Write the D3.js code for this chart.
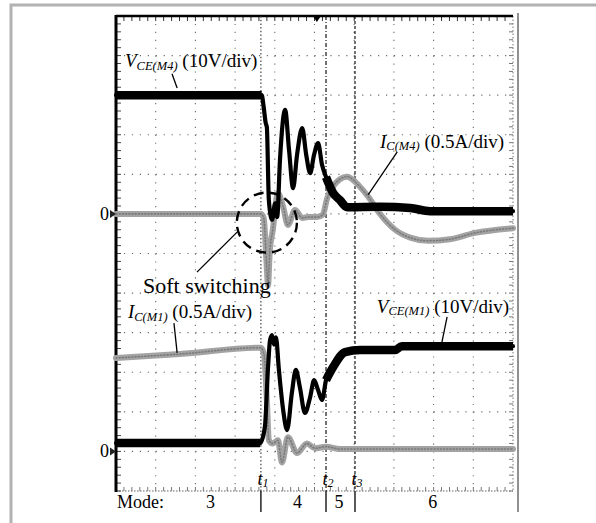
<!DOCTYPE html>
<html><head><meta charset="utf-8">
<script src="https://cdn.jsdelivr.net/npm/d3@7"></script>
<style>html,body{margin:0;padding:0;background:#fff;} svg{display:block;} text{font-family:"Liberation Serif","DejaVu Serif",serif;white-space:pre;}</style>
</head><body><svg id="c" width="596" height="523"></svg>
<script>
// ---------------- DATA (time in div, values in V or A) ----------------
const vceM4Time = [0, 3.67, 3.72, 3.77, 3.80, 3.85, 3.93, 4.01, 4.06, 4.13, 4.26, 4.36, 4.46, 4.56, 4.69, 4.79, 4.89, 4.99, 5.09, 5.19, 5.29, 5.47, 5.64, 5.82, 6.65, 7.41, 7.91, 10];
const vceM4     = [30, 30, 27, 23, 21.9, 3.5, -1.5, 2.7, -0.8, 13.6, 26.3, 16, 6.5, 14.9, 21.7, 15, 10.3, 15, 17.9, 12.4, 9.3, 5.3, 3.5, 1.7, 1.8, 1.5, 0.7, 0.7];

const icM4Time = [0, 3.65, 3.72, 3.79, 3.83, 3.87, 3.95, 4.08, 4.21, 4.33, 4.51, 4.69, 4.84, 5.06, 5.21, 5.31, 5.44, 5.82, 6.15, 6.35, 6.65, 7.03, 7.41, 7.86, 8.41, 9.04, 10];
const icM4     = [0, 0, -0.05, -0.6, -0.9, -0.5, -0.2, 0.26, 0.09, -0.14, 0.05, -0.05, -0.04, -0.04, -0.01, 0.18, 0.33, 0.47, 0.34, 0.22, 0, -0.2, -0.3, -0.34, -0.32, -0.24, -0.18];

const vceM1Time = [0, 3.63, 3.75, 3.83, 3.88, 3.93, 3.98, 4.03, 4.10, 4.21, 4.31, 4.43, 4.53, 4.63, 4.76, 4.89, 4.99, 5.09, 5.19, 5.29, 5.47, 5.77, 6.15, 7.03, 7.20, 10];
const vceM1     = [2.1, 2.1, 6.2, 21.3, 28.1, 29.4, 27.0, 28.8, 21.0, 10.5, 5.4, 14.8, 20.6, 16.3, 9.7, 13.7, 18.0, 15.5, 13.0, 18.0, 21.3, 25.1, 25.6, 25.6, 26.6, 26.6];

const icM1Time = [0, 1.61, 3.65, 3.73, 3.80, 3.85, 3.95, 4.08, 4.18, 4.33, 4.56, 4.81, 5.01, 5.29, 5.64, 10];
const icM1     = [1.18, 1.23, 1.31, 1.22, 0.65, 0.14, 0.10, 0.14, -0.14, 0.18, -0.02, 0.10, 0.04, 0.06, 0.03, 0.03];

const cursorNames = ["1", "2", "3"];
const cursorTimes = [3.65, 5.29, 6.02];
const modeNames = ["3", "4", "5", "6"];
const modeTimes = [2.38, 4.57, 5.62, 7.98];
const triggerTime = 5.06;

// ---------------- SETUP ----------------
const svg = d3.select('#c');
const P = {left:116, top:16, right:513, bottom:491};
const xDiv = d3.scaleLinear([0,10],[P.left,P.right]);
const yDiv = d3.scaleLinear([0,12],[P.bottom,P.top]);
const chan = (zeroDiv, perDiv) => d3.scaleLinear([-zeroDiv*perDiv,(12-zeroDiv)*perDiv],[P.bottom,P.top]);
const yVM4 = chan(7,10), yIM4 = chan(7,0.5), yVM1 = chan(1,10), yIM1 = chan(1,0.5);

// outer frame
svg.append('rect').attr('x',11).attr('y',5).attr('width',700).attr('height',700)
  .attr('fill','none').attr('stroke','#b2b2b2').attr('stroke-width',3);
svg.append('line').attr('x1',518).attr('x2',518).attr('y1',13).attr('y2',512)
  .attr('stroke','#555').attr('stroke-width',1.3);

// grid
const g = svg.append('g');
const minor = (xDiv(1)-xDiv(0))/5, minorY = (yDiv(0)-yDiv(1))/5;
g.selectAll('.vg').data(d3.range(1,10)).join('line')
  .attr('x1',d=>xDiv(d)).attr('x2',d=>xDiv(d)).attr('y1',P.top).attr('y2',P.bottom)
  .attr('stroke','#6a6a6a').attr('stroke-width',1.1).attr('stroke-dasharray',`1.2 ${minorY-1.2}`);
g.selectAll('.hg').data(d3.range(1,12)).join('line')
  .attr('y1',d=>yDiv(d)).attr('y2',d=>yDiv(d)).attr('x1',P.left).attr('x2',P.right)
  .attr('stroke','#6a6a6a').attr('stroke-width',1.1).attr('stroke-dasharray',`1.2 ${minor-1.2}`);
// bottom & right edges dotted
g.append('line').attr('x1',P.left).attr('x2',P.right).attr('y1',P.bottom).attr('y2',P.bottom)
  .attr('stroke','#666').attr('stroke-width',1.1).attr('stroke-dasharray','1.5 1.5');
g.append('line').attr('x1',P.right).attr('x2',P.right).attr('y1',P.top).attr('y2',P.bottom)
  .attr('stroke','#777').attr('stroke-width',1).attr('stroke-dasharray','1.5 2');
// edge minor ticks
const xt = d3.range(0,50).map(i=>i/5), yt = d3.range(0,60).map(i=>i/5);
g.selectAll('.tt').data(xt).join('line').attr('x1',d=>xDiv(d)).attr('x2',d=>xDiv(d))
  .attr('y1',P.top).attr('y2',P.top+5).attr('stroke','#333').attr('stroke-width',1);
g.selectAll('.bt').data(xt).join('line').attr('x1',d=>xDiv(d)).attr('x2',d=>xDiv(d))
  .attr('y1',P.bottom).attr('y2',P.bottom-4).attr('stroke','#777').attr('stroke-width',1);
g.selectAll('.lt').data(yt).join('line').attr('y1',d=>yDiv(d)).attr('y2',d=>yDiv(d))
  .attr('x1',P.left).attr('x2',P.left+5).attr('stroke','#444').attr('stroke-width',1);
g.selectAll('.rt').data(yt).join('line').attr('y1',d=>yDiv(d)).attr('y2',d=>yDiv(d))
  .attr('x1',P.right).attr('x2',P.right-4).attr('stroke','#777').attr('stroke-width',1);
// borders
g.append('line').attr('x1',P.left).attr('x2',P.right).attr('y1',P.top).attr('y2',P.top)
  .attr('stroke','#000').attr('stroke-width',2.5);
g.append('line').attr('x1',P.left).attr('x2',P.left).attr('y1',P.top-1).attr('y2',P.bottom+1)
  .attr('stroke','#000').attr('stroke-width',3);

// trigger marker
const tx = xDiv(triggerTime);
svg.append('path').attr('d',`M${tx-4},${P.top}L${tx+4},${P.top}L${tx},${P.top+6}Z`).attr('fill','#000');

// cursors
const cursorDash = ['1.5 2.2','4 2 1 2','3 2'];
cursorTimes.forEach((t,i)=>{
  const x = xDiv(t);
  svg.append('line').attr('x1',x).attr('x2',x).attr('y1',P.top).attr('y2',P.bottom)
    .attr('stroke',i===0?'#333':'#000').attr('stroke-width',1.1).attr('stroke-dasharray',cursorDash[i]);
  svg.append('line').attr('x1',x).attr('x2',x).attr('y1',P.bottom).attr('y2',P.bottom+21)
    .attr('stroke','#000').attr('stroke-width',1.3);
  const tl = svg.append('text').attr('x',x-3.5).attr('y',yDiv(0.15)).attr('font-size',18).attr('font-style','italic');
  tl.append('tspan').text('t');
  tl.append('tspan').attr('font-size',12).attr('dy',2).text(cursorNames[i]);
});

// traces
const mk = (T,V) => T.map((t,i)=>({t, v:V[i]}));
const line = ys => d3.line().x(d=>xDiv(d.t)).y(d=>ys(d.v)).curve(d3.curveMonotoneX);
const tr = svg.append('g').attr('fill','none').attr('stroke-linejoin','round').attr('stroke-linecap','round');

function grayTrace(data, ys){
  tr.append('path').attr('d',line(ys)(data)).attr('stroke','#a3a3a3').attr('stroke-width',6);
  tr.append('path').attr('d',line(ys)(data)).attr('stroke','#7a7a7a').attr('stroke-width',1.6)
    .attr('stroke-dasharray','1 2.2');
}
function blackTrace(data, ys, tA, tB){
  tr.append('path').attr('d',line(ys)(data)).attr('stroke','#000').attr('stroke-width',4.2);
  const thick = line(ys).defined(d=>d.t<=tA || d.t>=tB);
  tr.append('path').attr('d',thick(data)).attr('stroke','#000').attr('stroke-width',8.5).attr('stroke-linecap','butt');
}
grayTrace(mk(icM4Time,icM4), yIM4);
grayTrace(mk(icM1Time,icM1), yIM1);
blackTrace(mk(vceM4Time,vceM4), yVM4, 3.67, cursorTimes[1]);
blackTrace(mk(vceM1Time,vceM1), yVM1, 3.63, cursorTimes[1]);

// zero markers
[7,1].forEach(z=>{
  const y = yDiv(z);
  svg.append('text').attr('x',P.left-7).attr('y',y+6).attr('text-anchor','end').attr('font-size',18).text('0');
  svg.append('path').attr('d',`M${P.left-6},${y-4}L${P.left},${y}L${P.left-6},${y+4}Z`).attr('fill','#222');
});

// labels
function label(xd, yd, main, sub, rest){
  const t = svg.append('text').attr('x',xDiv(xd)).attr('y',yDiv(yd)).attr('font-size',19);
  t.append('tspan').attr('font-style','italic').text(main);
  t.append('tspan').attr('font-style','italic').attr('font-size',12.5).attr('dy',2.5).text(sub);
  t.append('tspan').attr('dy',-2.5).text(' '+rest);
}
label(0.227, 10.71, 'V', 'CE(M4)', '(10V/div)');
label(6.65, 8.67, 'I', 'C(M4)', '(0.5A/div)');
label(0.30, 4.37, 'I', 'C(M1)', '(0.5A/div)');
label(6.57, 4.50, 'V', 'CE(M1)', '(10V/div)');

const leaders = [[1.41,10.54,1.54,10.18],[7.08,8.56,6.35,7.48],[1.46,4.24,1.54,3.49],[8.34,4.40,8.21,3.76],[2.04,5.53,3.05,6.54]];
leaders.forEach(([a,b,c,d])=>{
  svg.append('line').attr('x1',xDiv(a)).attr('y1',yDiv(b)).attr('x2',xDiv(c)).attr('y2',yDiv(d))
    .attr('stroke','#000').attr('stroke-width',1.3);
});

// soft switching circle
const cx = xDiv(3.80), cy = yDiv(6.78), r = xDiv(0.757)-xDiv(0);
svg.append('circle').attr('cx',cx).attr('cy',cy).attr('r',r).attr('fill','none')
  .attr('stroke','#000').attr('stroke-width',2.4).attr('stroke-dasharray','10 6');
svg.append('text').attr('x',xDiv(0.68)).attr('y',yDiv(5.0)).attr('font-size',22).text('Soft switching');

// mode row
svg.append('text').attr('x',P.left+1).attr('y',508).attr('font-size',18).text('Mode:');
modeNames.forEach((m,i)=>{
  svg.append('text').attr('x',xDiv(modeTimes[i])).attr('y',508).attr('text-anchor','middle').attr('font-size',18).text(m);
});
</script></body></html>
